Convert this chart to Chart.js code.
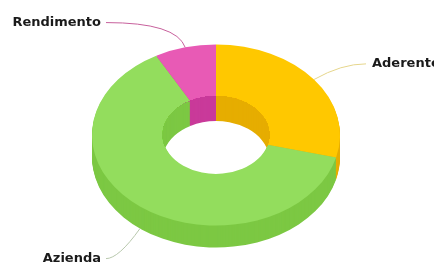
<!DOCTYPE html>
<html>
<head>
<meta charset="utf-8">
<script src="https://cdn.jsdelivr.net/npm/chart.js@4/dist/chart.umd.min.js"></script>
<style>
  html, body { margin: 0; padding: 0; background: #fff; }
</style>
</head>
<body>
<canvas id="grafico" width="434" height="262"></canvas>
<script>
// DADOS
const categorias = ['Aderente', 'Azienda', 'Rendimento'];
const valores = [29, 63, 8];

// CORES
const coresTopo = ['#ffc800', '#93dd5d', '#e85ab5'];
const coresLado = ['#e6ad00', '#7cc843', '#c93a9a'];
const coresLinha = ['#e6d68c', '#b8c8ad', '#c7609c'];

// "3D" fake: achata o donut e empilha camadas escuras embaixo
const ACHATAMENTO = 0.73;
const PROFUNDIDADE = 22;
const PROF_INTERNA = 25; // parede do furo parece mais funda (perspectiva)

function aplicarPerspectiva(ctx, cx, cy, dy) {
  ctx.translate(cx, cy + dy);
  ctx.scale(1, ACHATAMENTO);
  ctx.translate(-cx, -cy);
}

function caminhoFatia(ctx, arc) {
  ctx.beginPath();
  ctx.arc(arc.x, arc.y, arc.outerRadius, arc.startAngle, arc.endAngle);
  ctx.arc(arc.x, arc.y, arc.innerRadius, arc.endAngle, arc.startAngle, true);
  ctx.closePath();
}

function desenharCamadas(ctx, meta, ate) {
  const { x, y } = meta.data[0];
  for (let d = ate; d > 0; d--) {
    ctx.save();
    aplicarPerspectiva(ctx, x, y, d);
    meta.data.forEach((arc, i) => {
      caminhoFatia(ctx, arc);
      ctx.fillStyle = coresLado[i];
      ctx.fill();
    });
    ctx.restore();
  }
}

const pizza3d = {
  id: 'pizza3d',
  beforeDatasetsDraw(chart) {
    const ctx = chart.ctx;
    const meta = chart.getDatasetMeta(0);
    const { x, y } = meta.data[0];

    // LATERAL EXTERNA
    desenharCamadas(ctx, meta, PROFUNDIDADE);

    // TOPO (desenhado pelo proprio Chart.js)
    ctx.save();
    aplicarPerspectiva(ctx, x, y, 0);
  },
  afterDatasetsDraw(chart) {
    const ctx = chart.ctx;
    ctx.restore();

    // PAREDE INTERNA (so dentro do furo)
    const meta = chart.getDatasetMeta(0);
    const arc0 = meta.data[0];
    ctx.save();
    aplicarPerspectiva(ctx, arc0.x, arc0.y, 0);
    ctx.beginPath();
    ctx.arc(arc0.x, arc0.y, arc0.innerRadius, 0, Math.PI * 2);
    ctx.clip();
    ctx.setTransform(1, 0, 0, 1, 0, 0);
    desenharCamadas(ctx, meta, PROF_INTERNA);
    ctx.restore();
  }
};

const rotulos = {
  id: 'rotulos',
  afterDraw(chart) {
    const ctx = chart.ctx;
    const meta = chart.getDatasetMeta(0);
    const colEsq = 106;
    const colDir = 366;

    meta.data.forEach((arc, i) => {
      const meio = (arc.startAngle + arc.endAngle) / 2;
      const cos = Math.cos(meio);
      const sin = Math.sin(meio);
      const frente = sin > 0 ? PROFUNDIDADE : 0;

      const ax = arc.x + arc.outerRadius * cos;
      const ay = arc.y + arc.outerRadius * ACHATAMENTO * sin + frente;
      const r2 = arc.outerRadius + 35;
      const ex = arc.x + r2 * cos;
      const ey = arc.y + r2 * ACHATAMENTO * sin + frente * 1.45;
      const direita = cos >= 0;
      const fx = direita ? colDir : colEsq;

      ctx.save();
      ctx.strokeStyle = coresLinha[i];
      ctx.lineWidth = 1;
      ctx.beginPath();
      ctx.moveTo(ax, ay);
      ctx.quadraticCurveTo(ex, ey, fx, ey);
      ctx.stroke();

      ctx.font = 'bold 13px "DejaVu Sans"';
      ctx.fillStyle = '#1a1a1a';
      ctx.textBaseline = 'middle';
      ctx.textAlign = direita ? 'left' : 'right';
      ctx.fillText(categorias[i], direita ? fx + 6 : fx - 5, ey);
      ctx.restore();
    });
  }
};

new Chart(document.getElementById('grafico'), {
  type: 'doughnut',
  data: {
    labels: categorias,
    datasets: [
      {
        data: valores,
        backgroundColor: coresTopo,
        borderWidth: 0,
        clip: false
      }
    ]
  },
  options: {
    responsive: false,
    animation: false,
    cutout: '43%',
    layout: {
      padding: { top: 11, bottom: 3, left: 92, right: 94 }
    },
    plugins: {
      legend: { display: false },
      tooltip: { enabled: false }
    }
  },
  plugins: [pizza3d, rotulos]
});
</script>
</body>
</html>
